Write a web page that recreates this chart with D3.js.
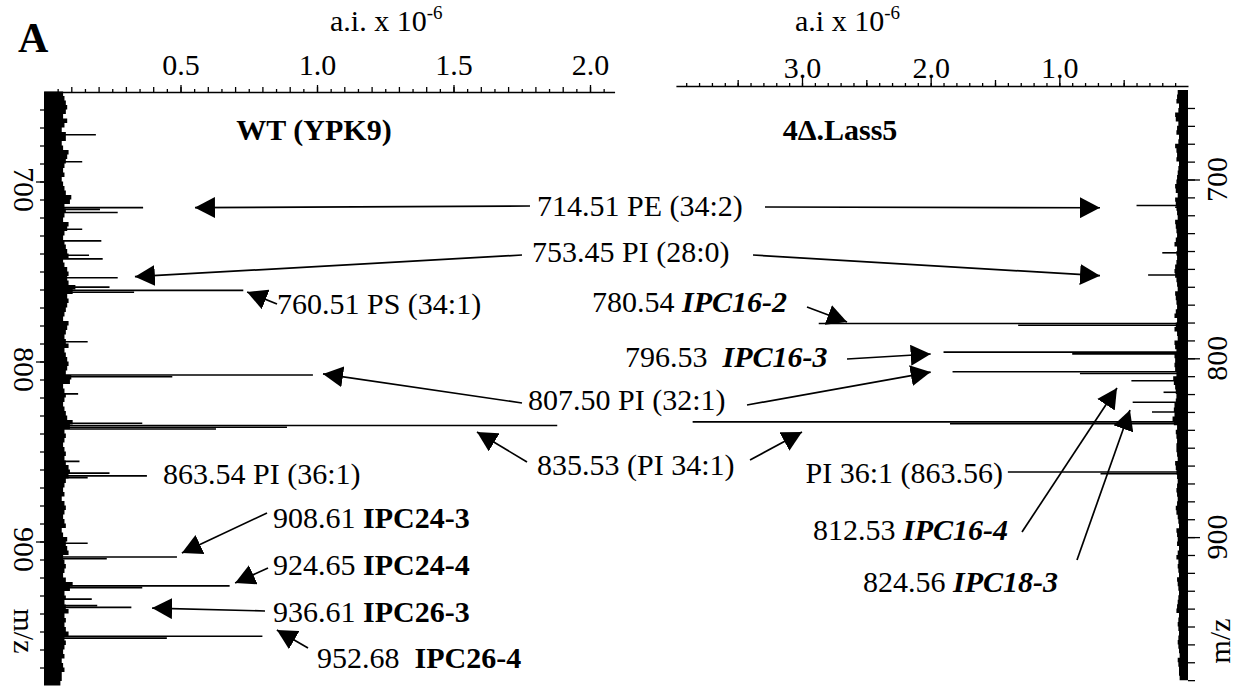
<!DOCTYPE html>
<html>
<head>
<meta charset="utf-8">
<script src="https://cdn.jsdelivr.net/npm/d3@7"></script>
<style>
  body { margin: 0; background: #fff; }
  svg { display: block; font-family: "Liberation Serif", "Times New Roman", serif; }
</style>
</head>
<body>
<main></main>
<script>
// ---- data ----
const wtTickLabels = [0.5, 1.0, 1.5, 2.0];
const lassTickLabels = [3.0, 2.0, 1.0];
const mzTickLabels = [700, 800, 900];

// WT (YPK9) peaks: m/z and intensity (a.i. x 10^-6)
const wtMz = [674, 689, 714.51, 715.5, 717.2, 726.5, 733, 741, 743, 753.45, 758.7, 760.51, 761.5, 789,
  807.5, 808.5, 818, 834.3, 835.53, 836.53, 837.5, 855.5, 862, 863.54, 864.5, 901, 908.61, 909.6,
  924.65, 925.6, 932, 935.6, 936.61, 952.68, 953.7];
const wtAi = [0.19, 0.14, 0.363, 0.205, 0.27, 0.14, 0.21, 0.165, 0.215, 0.27, 0.24, 0.73, 0.33, 0.16,
  0.985, 0.47, 0.125, 0.36, 1.88, 0.89, 0.63, 0.13, 0.24, 0.377, 0.16, 0.16, 0.487, 0.23,
  0.68, 0.36, 0.175, 0.195, 0.32, 0.80, 0.45];

// 4Δ.Lass5 peaks
const lassMz = [714.51, 715.5, 741, 753.45, 780.54, 781.54, 796.53, 797.53, 807.5, 808.5, 812.53, 819,
  824.56, 830, 835.53, 836.53, 863.56, 864.56];
const lassAi = [0.40, 0.1, 0.2, 0.31, 2.87, 1.32, 1.90, 0.90, 1.83, 0.84, 0.44, 0.19,
  0.43, 0.28, 3.85, 1.85, 1.40, 0.68];

// baseline noise envelope, one value every 2.5 m/z from 650 to 980
const wtNoise = [
  0.08, 0.06, 0.09, 0.07, 0.10, 0.06, 0.08, 0.09, 0.06, 0.07,
  0.09, 0.07, 0.06, 0.08, 0.10, 0.07, 0.09, 0.06, 0.08, 0.07,
  0.06, 0.08, 0.07, 0.09, 0.11, 0.08, 0.07, 0.09, 0.06, 0.08,
  0.10, 0.07, 0.08, 0.06, 0.09, 0.07, 0.10, 0.08, 0.06, 0.09,
  0.08, 0.10, 0.07, 0.11, 0.12, 0.09, 0.08, 0.10, 0.07, 0.09,
  0.06, 0.08, 0.10, 0.07, 0.09, 0.06, 0.10, 0.08, 0.07, 0.09,
  0.08, 0.10, 0.07, 0.09, 0.11, 0.08, 0.06, 0.09, 0.07, 0.08,
  0.06, 0.09, 0.07, 0.10, 0.11, 0.08, 0.07, 0.09, 0.06, 0.08,
  0.07, 0.09, 0.06, 0.10, 0.08, 0.11, 0.07, 0.09, 0.06, 0.08,
  0.07, 0.06, 0.09, 0.07, 0.08, 0.06, 0.09, 0.07, 0.06, 0.08,
  0.09, 0.07, 0.10, 0.08, 0.06, 0.09, 0.07, 0.08, 0.06, 0.10,
  0.11, 0.08, 0.07, 0.09, 0.06, 0.10, 0.08, 0.07, 0.09, 0.06,
  0.10, 0.08, 0.07, 0.09, 0.06, 0.08, 0.07, 0.06, 0.08, 0.07,
  0.06, 0.07, 0.05];
const lassNoise = [
  0.09, 0.07, 0.10, 0.08, 0.06, 0.09, 0.11, 0.08, 0.07, 0.10,
  0.08, 0.06, 0.09, 0.11, 0.07, 0.10, 0.08, 0.06, 0.09, 0.07,
  0.10, 0.08, 0.12, 0.07, 0.09, 0.11, 0.08, 0.10, 0.07, 0.09,
  0.11, 0.08, 0.10, 0.07, 0.12, 0.09, 0.08, 0.10, 0.07, 0.11,
  0.09, 0.12, 0.08, 0.10, 0.07, 0.09, 0.11, 0.08, 0.10, 0.07,
  0.12, 0.09, 0.08, 0.11, 0.10, 0.07, 0.09, 0.12, 0.08, 0.10,
  0.11, 0.09, 0.12, 0.08, 0.10, 0.13, 0.09, 0.11, 0.08, 0.10,
  0.09, 0.12, 0.10, 0.11, 0.13, 0.09, 0.08, 0.11, 0.07, 0.10,
  0.08, 0.10, 0.07, 0.09, 0.11, 0.08, 0.10, 0.07, 0.09, 0.08,
  0.10, 0.07, 0.09, 0.08, 0.11, 0.07, 0.09, 0.06, 0.08, 0.10,
  0.07, 0.09, 0.08, 0.06, 0.10, 0.08, 0.07, 0.09, 0.06, 0.08,
  0.09, 0.07, 0.08, 0.06, 0.09, 0.07, 0.10, 0.08, 0.06, 0.09,
  0.07, 0.08, 0.06, 0.09, 0.07, 0.08, 0.06, 0.07, 0.09, 0.06,
  0.08, 0.06, 0.07];

// annotation texts: [plain, emphasised]
const noteText = [
  ['714.51 PE (34:2)', ''], ['753.45 PI (28:0)', ''], ['760.51 PS (34:1)', ''],
  ['780.54 ', 'IPC16-2'], ['796.53  ', 'IPC16-3'], ['807.50 PI (32:1)', ''],
  ['835.53 (PI 34:1)', ''], ['863.54 PI (36:1)', ''], ['PI 36:1 (863.56)', ''],
  ['908.61 ', 'IPC24-3'], ['924.65 ', 'IPC24-4'], ['936.61 ', 'IPC26-3'], ['952.68  ', 'IPC26-4'],
  ['812.53 ', 'IPC16-4'], ['824.56 ', 'IPC18-3']
];
// arrow targets in data space: side, m/z, intensity
const arrowTargets = [
  ['L', 714.51, 0.553], ['R', 715.8, 0.684], ['L', 752.9, 0.333], ['R', 753.8, 0.684],
  ['L', 761.4, 0.744], ['R', 779.7, 2.65], ['R', 797.6, 2.0], ['L', 806.9, 1.022], ['R', 807.7, 2.0],
  ['L', 839.2, 1.586], ['R', 841.2, 3.0], ['L', 906.4, 0.505], ['L', 923.1, 0.70], ['L', 937.0, 0.396],
  ['L', 949.2, 0.853], ['R', 816.6, 0.552], ['R', 828.9, 0.451]
];

// ---- layout ----
const width = 1245;
const height = 691;
const fontSize = 30;

// annotation layout: x, baseline, anchor, emphasis style
const noteLayout = [
  [537, 216, 'start', ''], [532, 262, 'start', ''], [277, 314, 'start', ''],
  [592, 312, 'start', 'bi'], [625, 367, 'start', 'bi'], [528, 410, 'start', ''],
  [537, 475, 'start', ''], [163, 484, 'start', ''], [1003, 483, 'end', ''],
  [273, 528, 'start', 'b'], [273, 575, 'start', 'b'], [273, 622, 'start', 'b'], [317, 668, 'start', 'b'],
  [1008, 540, 'end', 'bi'], [863, 592, 'start', 'bi']
];
const arrowTails = [
  [530, 206], [765, 207], [522, 255], [753, 255], [277, 304], [807, 307], [847, 359],
  [522, 403], [747, 405], [527, 462], [750, 460], [267, 513], [268, 568], [265, 611],
  [308, 648], [1022, 532], [1077, 560]
];

const svg = d3.select('main')
  .append('svg')
  .attr('width', width)
  .attr('height', height);

svg.append('rect').attr('width', width).attr('height', height).attr('fill', '#fff');

// scales: left panel grows to the right, right panel grows to the left
const xL = d3.scaleLinear().domain([0, 2.0]).range([44, 590]);
const xR = d3.scaleLinear().domain([0, 3.0]).range([1188, 802]);
const yL = d3.scaleLinear().domain([700, 900]).range([181.5, 541.5]);
const yR = d3.scaleLinear().domain([700, 900]).range([179.5, 537.1]);

const axisYL = 92;
const axisYR = 86;

// arrow head
svg.append('defs').append('marker')
  .attr('id', 'arrow')
  .attr('markerUnits', 'userSpaceOnUse')
  .attr('viewBox', '0 0 20 21')
  .attr('markerWidth', 20)
  .attr('markerHeight', 21)
  .attr('refX', 20)
  .attr('refY', 10.5)
  .attr('orient', 'auto')
  .append('path')
  .attr('d', 'M0,0L20,10.5L0,21Z')
  .attr('fill', '#000');

// ---- baseline noise bands ----
const noiseMz = d3.range(650, 981, 2.5);
const noise = noiseMz.map((mz, i) => ({ mz, wt: wtNoise[i], lass: lassNoise[i] }));

svg.append('path')
  .datum(noise)
  .attr('fill', '#000')
  .attr('d', d3.area()
    .curve(d3.curveStep)
    .y(d => yL(d.mz))
    .x0(xL(0))
    .x1(d => xL(d.wt)));

svg.append('path')
  .datum(noise)
  .attr('fill', '#000')
  .attr('d', d3.area()
    .curve(d3.curveStep)
    .y(d => yR(d.mz))
    .x0(xR(0))
    .x1(d => xR(d.lass)));

// ---- peaks ----
svg.append('g')
  .selectAll('line')
  .data(wtMz.map((mz, i) => ({ mz, ai: wtAi[i] })))
  .join('line')
  .attr('x1', xL(0))
  .attr('x2', d => xL(d.ai))
  .attr('y1', d => yL(d.mz))
  .attr('y2', d => yL(d.mz))
  .attr('stroke', '#000')
  .attr('stroke-width', 1.6);

svg.append('g')
  .selectAll('line')
  .data(lassMz.map((mz, i) => ({ mz, ai: lassAi[i] })))
  .join('line')
  .attr('x1', xR(0))
  .attr('x2', d => xR(d.ai))
  .attr('y1', d => yR(d.mz))
  .attr('y2', d => yR(d.mz))
  .attr('stroke', '#000')
  .attr('stroke-width', 1.6);

// ---- top intensity axes ----
const xLaxis = xL.copy().domain([0, 2.09]).range([xL(0), xL(2.09)]);
const xRaxis = xR.copy().domain([0, 3.98]).range([xR(0), xR(3.98)]);

function styleAxis(g) {
  g.selectAll('path, line').attr('stroke', '#000').attr('stroke-width', 1.3);
  g.selectAll('text').attr('font-size', fontSize).attr('font-family', 'Liberation Serif, serif').attr('fill', '#000');
}

// left: minor ticks every 0.05, taller every 0.1
svg.append('g')
  .attr('transform', `translate(0, ${axisYL})`)
  .call(d3.axisTop(xLaxis).tickValues(d3.range(1, 42, 2).map(k => k * 0.05)).tickSize(3).tickSizeOuter(0).tickFormat(''))
  .call(styleAxis);
svg.append('g')
  .attr('transform', `translate(0, ${axisYL})`)
  .call(d3.axisTop(xLaxis).tickValues(d3.range(1, 21).map(k => k * 0.1)).tickSize(5).tickFormat(''))
  .call(g => g.select('.domain').remove())
  .call(styleAxis);
svg.append('g')
  .attr('transform', `translate(0, ${axisYL})`)
  .call(d3.axisTop(xLaxis).tickValues(wtTickLabels).tickSize(7).tickPadding(10).tickFormat(d3.format('.1f')))
  .call(g => g.select('.domain').remove())
  .call(styleAxis);

// right: minor every 0.1, taller every 0.5, labelled every 1.0
svg.append('g')
  .attr('transform', `translate(0, ${axisYR})`)
  .call(d3.axisTop(xRaxis).tickValues(d3.range(1, 40).map(k => k * 0.1)).tickSize(3).tickSizeOuter(0).tickFormat(''))
  .call(styleAxis);
svg.append('g')
  .attr('transform', `translate(0, ${axisYR})`)
  .call(d3.axisTop(xRaxis).tickValues([0.5, 1.5, 2.5, 3.5]).tickSize(6).tickFormat(''))
  .call(g => g.select('.domain').remove())
  .call(styleAxis);
svg.append('g')
  .attr('transform', `translate(0, ${axisYR})`)
  .call(d3.axisTop(xRaxis).tickValues(lassTickLabels).tickSize(9).tickPadding(-1).tickFormat(d3.format('.1f')))
  .call(g => g.select('.domain').remove())
  .call(styleAxis);

// ---- m/z axes ----
svg.append('g')
  .attr('transform', `translate(${xL(0)}, 0)`)
  .call(d3.axisLeft(yL).tickValues(d3.range(660, 980, 10)).tickSize(4).tickFormat(''))
  .call(g => g.select('.domain').remove())
  .call(styleAxis);
svg.append('g')
  .attr('transform', `translate(${xL(0)}, 0)`)
  .call(d3.axisLeft(yL).tickValues(mzTickLabels).tickSize(8).tickFormat(''))
  .call(g => g.select('.domain').remove())
  .call(styleAxis);

svg.append('g')
  .attr('transform', `translate(${xR(0)}, 0)`)
  .call(d3.axisRight(yR).tickValues(d3.range(660, 990, 10)).tickSize(7).tickFormat(''))
  .call(g => g.select('.domain').remove())
  .call(styleAxis);
svg.append('g')
  .attr('transform', `translate(${xR(0)}, 0)`)
  .call(d3.axisRight(yR).tickValues(mzTickLabels).tickSize(12).tickFormat(''))
  .call(g => g.select('.domain').remove())
  .call(styleAxis);

// rotated m/z labels
svg.selectAll('.mzL')
  .data(mzTickLabels)
  .join('text')
  .attr('transform', d => `translate(24, ${yL(d) + 8}) rotate(90)`)
  .attr('text-anchor', 'middle')
  .attr('dominant-baseline', 'central')
  .attr('font-size', fontSize)
  .text(d => d);

svg.selectAll('.mzR')
  .data(mzTickLabels)
  .join('text')
  .attr('transform', d => `translate(1216, ${yR(d)}) rotate(-90)`)
  .attr('text-anchor', 'middle')
  .attr('dominant-baseline', 'central')
  .attr('font-size', fontSize)
  .text(d => d);

svg.append('text')
  .attr('transform', 'translate(24, 631) rotate(90)')
  .attr('text-anchor', 'middle')
  .attr('dominant-baseline', 'central')
  .attr('font-size', fontSize)
  .text('m/z');

svg.append('text')
  .attr('transform', 'translate(1219, 641) rotate(-90)')
  .attr('text-anchor', 'middle')
  .attr('dominant-baseline', 'central')
  .attr('font-size', fontSize)
  .text('m/z');

// ---- titles ----
svg.append('text')
  .attr('x', 18).attr('y', 52)
  .attr('font-size', 42).attr('font-weight', 'bold')
  .text('A');

function unitLabel(x, txt) {
  const t = svg.append('text')
    .attr('x', x).attr('y', 31)
    .attr('font-size', fontSize);
  t.append('tspan').text(txt);
  t.append('tspan').attr('dy', -12).attr('font-size', 19).text('-6');
}
unitLabel(330, 'a.i. x 10');
unitLabel(795, 'a.i x 10');

svg.append('text')
  .attr('x', 314).attr('y', 140)
  .attr('text-anchor', 'middle')
  .attr('font-size', fontSize).attr('font-weight', 'bold')
  .text('WT (YPK9)');

svg.append('text')
  .attr('x', 840).attr('y', 140)
  .attr('text-anchor', 'middle')
  .attr('font-size', fontSize).attr('font-weight', 'bold')
  .text('4Δ.Lass5');

// ---- annotations ----
svg.append('g')
  .selectAll('line')
  .data(arrowTails.map((tail, i) => ({ tail, target: arrowTargets[i] })))
  .join('line')
  .attr('x1', d => d.tail[0])
  .attr('y1', d => d.tail[1])
  .attr('x2', d => d.target[0] === 'L' ? xL(d.target[2]) : xR(d.target[2]))
  .attr('y2', d => d.target[0] === 'L' ? yL(d.target[1]) : yR(d.target[1]))
  .attr('stroke', '#000')
  .attr('stroke-width', 1.7)
  .attr('marker-end', 'url(#arrow)');

noteText.forEach((parts, i) => {
  const [x, y, anchor, em] = noteLayout[i];
  const t = svg.append('text')
    .attr('x', x).attr('y', y)
    .attr('text-anchor', anchor)
    .attr('font-size', fontSize)
    .style('white-space', 'pre');
  t.append('tspan').text(parts[0]);
  if (parts[1]) {
    t.append('tspan')
      .attr('font-weight', 'bold')
      .attr('font-style', em === 'bi' ? 'italic' : 'normal')
      .text(parts[1]);
  }
});
</script>
</body>
</html>
